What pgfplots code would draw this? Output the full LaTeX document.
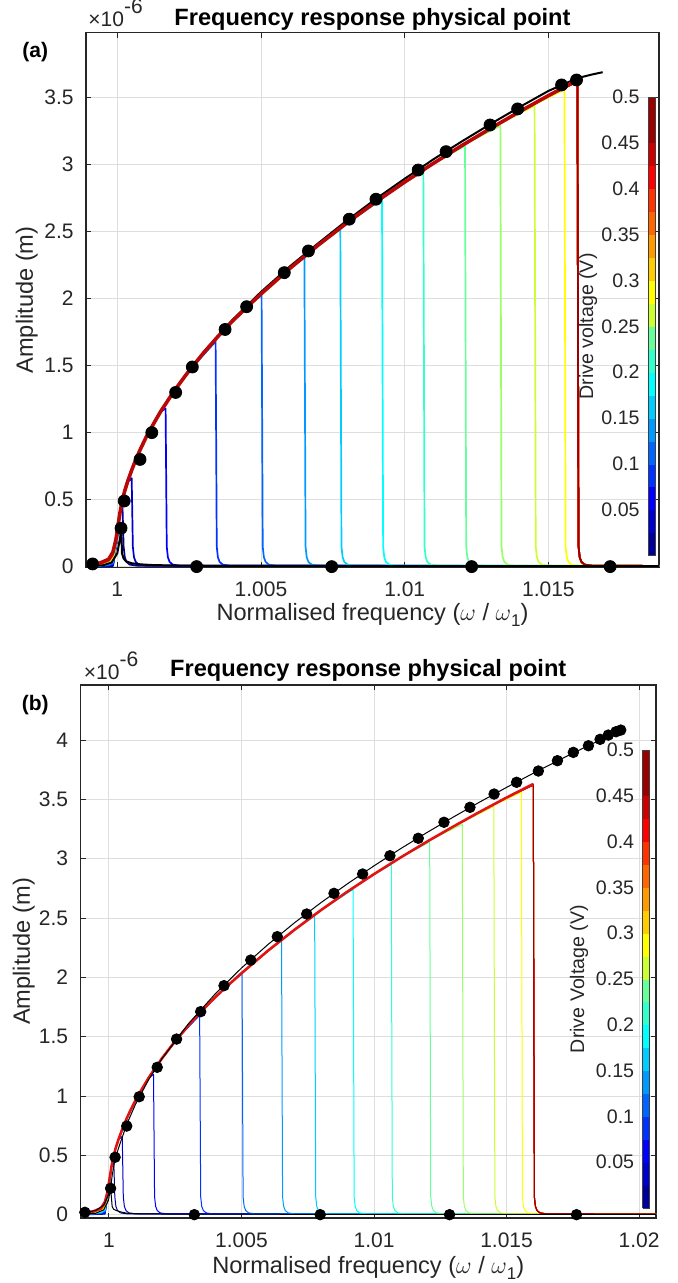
\documentclass[border=0pt]{standalone}
\usepackage{fontspec}
\setmainfont{Liberation Sans}
\usepackage{pgfplots}
\usepackage{pgfplotstable}
\pgfplotsset{compat=1.18}

% jet(20) as MATLAB builds it
\definecolor{j1}{rgb}{0,0,0.6}
\definecolor{j2}{rgb}{0,0,0.8}
\definecolor{j3}{rgb}{0,0,1}
\definecolor{j4}{rgb}{0,0.2,1}
\definecolor{j5}{rgb}{0,0.4,1}
\definecolor{j6}{rgb}{0,0.6,1}
\definecolor{j7}{rgb}{0,0.8,1}
\definecolor{j8}{rgb}{0,1,1}
\definecolor{j9}{rgb}{0.2,1,0.8}
\definecolor{j10}{rgb}{0.4,1,0.6}
\definecolor{j11}{rgb}{0.6,1,0.4}
\definecolor{j12}{rgb}{0.8,1,0.2}
\definecolor{j13}{rgb}{1,1,0}
\definecolor{j14}{rgb}{1,0.8,0}
\definecolor{j15}{rgb}{1,0.6,0}
\definecolor{j16}{rgb}{1,0.4,0}
\definecolor{j17}{rgb}{1,0.2,0}
\definecolor{j18}{rgb}{1,0,0}
\definecolor{j19}{rgb}{0.8,0,0}
\definecolor{j20}{rgb}{0.6,0,0}
\definecolor{thickA}{rgb}{0.72,0.03,0.03}
\definecolor{thickB}{rgb}{0.88,0.08,0.08}

\pgfplotsset{colormap={jetA}{rgb=(0,0,0.6) rgb=(0,0,0.8) rgb=(0,0,1) rgb=(0,0.2,1) rgb=(0,0.4,1)
  rgb=(0,0.6,1) rgb=(0,0.8,1) rgb=(0,1,1) rgb=(0.2,1,0.8) rgb=(0.4,1,0.6) rgb=(0.6,1,0.4)
  rgb=(0.8,1,0.2) rgb=(1,1,0) rgb=(1,0.8,0) rgb=(1,0.6,0) rgb=(1,0.4,0) rgb=(1,0.2,0)
  rgb=(1,0,0) rgb=(0.8,0,0) rgb=(0.6,0,0) rgb=(0.6,0,0)}}

% one table per drive level (0.025 V ... 0.5 V)
\pgfplotstableread[row sep=\\]{x y\\ 0.99890 0.0008\\ 0.99940 0.0014\\ 0.99970 0.0028\\ 0.99985 0.0055\\ 0.99999 0.200\\ 1.00009 0.400\\
1.00018 0.450\\ 1.00022 0.150\\ 1.00026 0.070\\ 1.00032 0.035\\ 1.00043 0.015\\ 1.00068 0.007\\ 1.02070 0.004\\}\rowa
\pgfplotstableread[row sep=\\]{x y\\ 0.99890 0.0015\\ 0.99940 0.0027\\ 0.99970 0.0055\\ 0.99985 0.011\\ 0.99999 0.200\\
1.00009 0.400\\ 1.00017 0.490\\ 1.00025 0.559\\ 1.00035 0.629\\
1.00050 0.660\\ 1.00054 0.150\\ 1.00058 0.070\\ 1.00064 0.035\\ 1.00075 0.015\\ 1.00100 0.007\\ 1.02070 0.004\\}\rowb
\pgfplotstableread[row sep=\\]{x y\\ 0.99890 0.0023\\ 0.99940 0.0041\\ 0.99970 0.0083\\ 0.99985 0.0165\\ 0.99998 0.200\\
1.00009 0.400\\ 1.00017 0.490\\ 1.00025 0.559\\ 1.00035 0.629\\ 1.00050 0.720\\ 1.00065 0.802\\ 1.00080 0.875\\ 1.00100 0.965\\ 1.00125 1.062\\ 1.00150 1.155\\
1.00168 1.180\\ 1.00172 0.150\\ 1.00176 0.070\\ 1.00182 0.035\\ 1.00193 0.015\\ 1.00218 0.007\\ 1.02070 0.004\\}\rowc
\pgfplotstableread[row sep=\\]{x y\\ 0.99890 0.003\\ 0.99940 0.0054\\ 0.99970 0.011\\ 0.99985 0.022\\ 0.99998 0.200\\
1.00009 0.400\\ 1.00017 0.490\\ 1.00025 0.559\\ 1.00035 0.629\\ 1.00050 0.720\\ 1.00065 0.802\\ 1.00080 0.875\\ 1.00100 0.965\\ 1.00125 1.062\\ 1.00150 1.155\\
1.00200 1.318\\ 1.00250 1.463\\
1.00342 1.680\\ 1.00346 0.150\\ 1.00350 0.070\\ 1.00356 0.035\\ 1.00367 0.015\\ 1.00392 0.007\\ 1.02070 0.004\\}\rowd
\pgfplotstableread[row sep=\\]{x y\\ 0.99890 0.0038\\ 0.99940 0.0068\\ 0.99970 0.0138\\ 0.99985 0.0275\\ 0.99998 0.200\\
1.00009 0.400\\ 1.00017 0.490\\ 1.00025 0.559\\ 1.00035 0.629\\ 1.00050 0.720\\ 1.00065 0.802\\ 1.00080 0.875\\ 1.00100 0.965\\ 1.00125 1.062\\ 1.00150 1.155\\
1.00200 1.318\\ 1.00250 1.463\\ 1.00300 1.595\\ 1.00350 1.717\\ 1.00400 1.831\\ 1.00450 1.935\\
1.00502 2.030\\ 1.00506 0.150\\ 1.00510 0.070\\ 1.00516 0.035\\ 1.00527 0.015\\ 1.00552 0.007\\ 1.02070 0.004\\}\rowe
\pgfplotstableread[row sep=\\]{x y\\ 0.99890 0.0045\\ 0.99940 0.0081\\ 0.99970 0.0165\\ 0.99985 0.033\\ 0.99998 0.200\\
1.00009 0.400\\ 1.00017 0.490\\ 1.00025 0.559\\ 1.00035 0.629\\ 1.00050 0.720\\ 1.00065 0.802\\ 1.00080 0.875\\ 1.00100 0.965\\ 1.00125 1.062\\ 1.00150 1.155\\
1.00200 1.318\\ 1.00250 1.463\\ 1.00300 1.595\\ 1.00350 1.717\\ 1.00400 1.831\\ 1.00450 1.935\\ 1.00500 2.035\\ 1.00600 2.225\\
1.00651 2.310\\ 1.00655 0.150\\ 1.00659 0.070\\ 1.00665 0.035\\ 1.00676 0.015\\ 1.00701 0.007\\ 1.02070 0.004\\}\rowf
\pgfplotstableread[row sep=\\]{x y\\ 0.99890 0.0053\\ 0.99940 0.0095\\ 0.99970 0.0193\\ 0.99985 0.0385\\ 0.99998 0.200\\
1.00009 0.400\\ 1.00017 0.490\\ 1.00025 0.559\\ 1.00035 0.629\\ 1.00050 0.720\\ 1.00065 0.802\\ 1.00080 0.875\\ 1.00100 0.965\\ 1.00125 1.062\\ 1.00150 1.155\\
1.00200 1.318\\ 1.00250 1.463\\ 1.00300 1.595\\ 1.00350 1.717\\ 1.00400 1.831\\ 1.00450 1.935\\ 1.00500 2.035\\ 1.00600 2.225\\ 1.00700 2.401\\
1.00776 2.520\\ 1.00780 0.150\\ 1.00784 0.070\\ 1.00790 0.035\\ 1.00801 0.015\\ 1.00826 0.007\\ 1.02070 0.004\\}\rowg
\pgfplotstableread[row sep=\\]{x y\\ 0.99890 0.006\\ 0.99940 0.0108\\ 0.99970 0.022\\ 0.99985 0.044\\ 0.99997 0.200\\
1.00009 0.400\\ 1.00017 0.490\\ 1.00025 0.559\\ 1.00035 0.629\\ 1.00050 0.720\\ 1.00065 0.802\\ 1.00080 0.875\\ 1.00100 0.965\\ 1.00125 1.062\\ 1.00150 1.155\\
1.00200 1.318\\ 1.00250 1.463\\ 1.00300 1.595\\ 1.00350 1.717\\ 1.00400 1.831\\ 1.00450 1.935\\ 1.00500 2.035\\ 1.00600 2.225\\ 1.00700 2.401\\ 1.00800 2.567\\
1.00921 2.740\\ 1.00925 0.150\\ 1.00929 0.070\\ 1.00935 0.035\\ 1.00946 0.015\\ 1.00971 0.007\\ 1.02070 0.004\\}\rowh
\pgfplotstableread[row sep=\\]{x y\\ 0.99890 0.0068\\ 0.99940 0.0122\\ 0.99970 0.0248\\ 0.99985 0.0495\\ 0.99997 0.200\\
1.00009 0.400\\ 1.00017 0.490\\ 1.00025 0.559\\ 1.00035 0.629\\ 1.00050 0.720\\ 1.00065 0.802\\ 1.00080 0.875\\ 1.00100 0.965\\ 1.00125 1.062\\ 1.00150 1.155\\
1.00200 1.318\\ 1.00250 1.463\\ 1.00300 1.595\\ 1.00350 1.717\\ 1.00400 1.831\\ 1.00450 1.935\\ 1.00500 2.035\\ 1.00600 2.225\\ 1.00700 2.401\\ 1.00800 2.567\\
1.00900 2.723\\ 1.01000 2.870\\
1.01065 2.950\\ 1.01069 0.150\\ 1.01073 0.070\\ 1.01079 0.035\\ 1.01090 0.015\\ 1.01115 0.007\\ 1.02070 0.004\\}\rowi
\pgfplotstableread[row sep=\\]{x y\\ 0.99890 0.0075\\ 0.99940 0.0135\\ 0.99970 0.0275\\ 0.99985 0.055\\ 0.99997 0.200\\
1.00009 0.400\\ 1.00017 0.490\\ 1.00025 0.559\\ 1.00035 0.629\\ 1.00050 0.720\\ 1.00065 0.802\\ 1.00080 0.875\\ 1.00100 0.965\\ 1.00125 1.062\\ 1.00150 1.155\\
1.00200 1.318\\ 1.00250 1.463\\ 1.00300 1.595\\ 1.00350 1.717\\ 1.00400 1.831\\ 1.00450 1.935\\ 1.00500 2.035\\ 1.00600 2.225\\ 1.00700 2.401\\ 1.00800 2.567\\
1.00900 2.723\\ 1.01000 2.870\\ 1.01100 3.010\\
1.01210 3.140\\ 1.01214 0.150\\ 1.01218 0.070\\ 1.01224 0.035\\ 1.01235 0.015\\ 1.01260 0.007\\ 1.02070 0.004\\}\rowj
\pgfplotstableread[row sep=\\]{x y\\ 0.99890 0.0083\\ 0.99940 0.0149\\ 0.99970 0.0303\\ 0.99985 0.0605\\ 0.99997 0.200\\
1.00009 0.400\\ 1.00017 0.490\\ 1.00025 0.559\\ 1.00035 0.629\\ 1.00050 0.720\\ 1.00065 0.802\\ 1.00080 0.875\\ 1.00100 0.965\\ 1.00125 1.062\\ 1.00150 1.155\\
1.00200 1.318\\ 1.00250 1.463\\ 1.00300 1.595\\ 1.00350 1.717\\ 1.00400 1.831\\ 1.00450 1.935\\ 1.00500 2.035\\ 1.00600 2.225\\ 1.00700 2.401\\ 1.00800 2.567\\
1.00900 2.723\\ 1.01000 2.870\\ 1.01100 3.010\\ 1.01200 3.144\\
1.01333 3.290\\ 1.01337 0.150\\ 1.01341 0.070\\ 1.01347 0.035\\ 1.01358 0.015\\ 1.01383 0.007\\ 1.02070 0.004\\}\rowk
\pgfplotstableread[row sep=\\]{x y\\ 0.99890 0.009\\ 0.99940 0.0162\\ 0.99970 0.033\\ 0.99985 0.066\\ 0.99997 0.200\\
1.00009 0.400\\ 1.00017 0.490\\ 1.00025 0.559\\ 1.00035 0.629\\ 1.00050 0.720\\ 1.00065 0.802\\ 1.00080 0.875\\ 1.00100 0.965\\ 1.00125 1.062\\ 1.00150 1.155\\
1.00200 1.318\\ 1.00250 1.463\\ 1.00300 1.595\\ 1.00350 1.717\\ 1.00400 1.831\\ 1.00450 1.935\\ 1.00500 2.035\\ 1.00600 2.225\\ 1.00700 2.401\\ 1.00800 2.567\\
1.00900 2.723\\ 1.01000 2.870\\ 1.01100 3.010\\ 1.01200 3.144\\ 1.01300 3.272\\
1.01452 3.440\\ 1.01456 0.150\\ 1.01460 0.070\\ 1.01466 0.035\\ 1.01477 0.015\\ 1.01502 0.007\\ 1.02070 0.004\\}\rowl
\pgfplotstableread[row sep=\\]{x y\\ 0.99890 0.0098\\ 0.99940 0.0176\\ 0.99970 0.0358\\ 0.99985 0.0715\\ 0.99996 0.200\\
1.00009 0.400\\ 1.00017 0.490\\ 1.00025 0.559\\ 1.00035 0.629\\ 1.00050 0.720\\ 1.00065 0.802\\ 1.00080 0.875\\ 1.00100 0.965\\ 1.00125 1.062\\ 1.00150 1.155\\
1.00200 1.318\\ 1.00250 1.463\\ 1.00300 1.595\\ 1.00350 1.717\\ 1.00400 1.831\\ 1.00450 1.935\\ 1.00500 2.035\\ 1.00600 2.225\\ 1.00700 2.401\\ 1.00800 2.567\\
1.00900 2.723\\ 1.01000 2.870\\ 1.01100 3.010\\ 1.01200 3.144\\ 1.01300 3.272\\ 1.01400 3.396\\
1.01556 3.560\\ 1.01560 0.150\\ 1.01564 0.070\\ 1.01570 0.035\\ 1.01581 0.015\\ 1.01606 0.007\\ 1.02070 0.004\\}\rowm
\pgfplotstableread[row sep=\\]{x y\\ 0.99890 0.0105\\ 0.99940 0.0189\\ 0.99970 0.0385\\ 0.99985 0.077\\ 0.99996 0.200\\
1.00009 0.400\\ 1.00017 0.490\\ 1.00025 0.559\\ 1.00035 0.629\\ 1.00050 0.720\\ 1.00065 0.802\\ 1.00080 0.875\\ 1.00100 0.965\\ 1.00125 1.062\\ 1.00150 1.155\\
1.00200 1.318\\ 1.00250 1.463\\ 1.00300 1.595\\ 1.00350 1.717\\ 1.00400 1.831\\ 1.00450 1.935\\ 1.00500 2.035\\ 1.00600 2.225\\ 1.00700 2.401\\ 1.00800 2.567\\
1.00900 2.723\\ 1.01000 2.870\\ 1.01100 3.010\\ 1.01200 3.144\\ 1.01300 3.272\\ 1.01400 3.396\\ 1.01500 3.515\\
1.01601 3.620\\ 1.01605 0.150\\ 1.01609 0.070\\ 1.01615 0.035\\ 1.01626 0.015\\ 1.01651 0.007\\ 1.02070 0.004\\}\rown
\pgfplotstableread[row sep=\\]{x y\\ 0.99890 0.0113\\ 0.99940 0.0203\\ 0.99970 0.0413\\ 0.99985 0.0825\\ 0.99996 0.200\\
1.00009 0.400\\ 1.00017 0.490\\ 1.00025 0.559\\ 1.00035 0.629\\ 1.00050 0.720\\ 1.00065 0.802\\ 1.00080 0.875\\ 1.00100 0.965\\ 1.00125 1.062\\ 1.00150 1.155\\
1.00200 1.318\\ 1.00250 1.463\\ 1.00300 1.595\\ 1.00350 1.717\\ 1.00400 1.831\\ 1.00450 1.935\\ 1.00500 2.035\\ 1.00600 2.225\\ 1.00700 2.401\\ 1.00800 2.567\\
1.00900 2.723\\ 1.01000 2.870\\ 1.01100 3.010\\ 1.01200 3.144\\ 1.01300 3.272\\ 1.01400 3.396\\ 1.01500 3.515\\
1.01601 3.620\\ 1.01605 0.150\\ 1.01609 0.070\\ 1.01615 0.035\\ 1.01626 0.015\\ 1.01651 0.007\\ 1.02070 0.004\\}\rowo
\pgfplotstableread[row sep=\\]{x y\\ 0.99890 0.012\\ 0.99940 0.0216\\ 0.99970 0.044\\ 0.99985 0.088\\ 0.99996 0.200\\
1.00009 0.400\\ 1.00017 0.490\\ 1.00025 0.559\\ 1.00035 0.629\\ 1.00050 0.720\\ 1.00065 0.802\\ 1.00080 0.875\\ 1.00100 0.965\\ 1.00125 1.062\\ 1.00150 1.155\\
1.00200 1.318\\ 1.00250 1.463\\ 1.00300 1.595\\ 1.00350 1.717\\ 1.00400 1.831\\ 1.00450 1.935\\ 1.00500 2.035\\ 1.00600 2.225\\ 1.00700 2.401\\ 1.00800 2.567\\
1.00900 2.723\\ 1.01000 2.870\\ 1.01100 3.010\\ 1.01200 3.144\\ 1.01300 3.272\\ 1.01400 3.396\\ 1.01500 3.515\\
1.01601 3.620\\ 1.01605 0.150\\ 1.01609 0.070\\ 1.01615 0.035\\ 1.01626 0.015\\ 1.01651 0.007\\ 1.02070 0.004\\}\rowp
\pgfplotstableread[row sep=\\]{x y\\ 0.99890 0.0128\\ 0.99940 0.023\\ 0.99970 0.0468\\ 0.99985 0.0935\\ 0.99996 0.200\\
1.00009 0.400\\ 1.00017 0.490\\ 1.00025 0.559\\ 1.00035 0.629\\ 1.00050 0.720\\ 1.00065 0.802\\ 1.00080 0.875\\ 1.00100 0.965\\ 1.00125 1.062\\ 1.00150 1.155\\
1.00200 1.318\\ 1.00250 1.463\\ 1.00300 1.595\\ 1.00350 1.717\\ 1.00400 1.831\\ 1.00450 1.935\\ 1.00500 2.035\\ 1.00600 2.225\\ 1.00700 2.401\\ 1.00800 2.567\\
1.00900 2.723\\ 1.01000 2.870\\ 1.01100 3.010\\ 1.01200 3.144\\ 1.01300 3.272\\ 1.01400 3.396\\ 1.01500 3.515\\
1.01601 3.620\\ 1.01605 0.150\\ 1.01609 0.070\\ 1.01615 0.035\\ 1.01626 0.015\\ 1.01651 0.007\\ 1.02070 0.004\\}\rowq
\pgfplotstableread[row sep=\\]{x y\\ 0.99890 0.0135\\ 0.99940 0.0243\\ 0.99970 0.0495\\ 0.99985 0.099\\ 0.99995 0.200\\
1.00009 0.400\\ 1.00017 0.490\\ 1.00025 0.559\\ 1.00035 0.629\\ 1.00050 0.720\\ 1.00065 0.802\\ 1.00080 0.875\\ 1.00100 0.965\\ 1.00125 1.062\\ 1.00150 1.155\\
1.00200 1.318\\ 1.00250 1.463\\ 1.00300 1.595\\ 1.00350 1.717\\ 1.00400 1.831\\ 1.00450 1.935\\ 1.00500 2.035\\ 1.00600 2.225\\ 1.00700 2.401\\ 1.00800 2.567\\
1.00900 2.723\\ 1.01000 2.870\\ 1.01100 3.010\\ 1.01200 3.144\\ 1.01300 3.272\\ 1.01400 3.396\\ 1.01500 3.515\\
1.01601 3.620\\ 1.01605 0.150\\ 1.01609 0.070\\ 1.01615 0.035\\ 1.01626 0.015\\ 1.01651 0.007\\ 1.02070 0.004\\}\rowr
\pgfplotstableread[row sep=\\]{x y\\ 0.99890 0.0143\\ 0.99940 0.0257\\ 0.99970 0.0523\\ 0.99985 0.1045\\ 0.99995 0.200\\
1.00009 0.400\\ 1.00017 0.490\\ 1.00025 0.559\\ 1.00035 0.629\\ 1.00050 0.720\\ 1.00065 0.802\\ 1.00080 0.875\\ 1.00100 0.965\\ 1.00125 1.062\\ 1.00150 1.155\\
1.00200 1.318\\ 1.00250 1.463\\ 1.00300 1.595\\ 1.00350 1.717\\ 1.00400 1.831\\ 1.00450 1.935\\ 1.00500 2.035\\ 1.00600 2.225\\ 1.00700 2.401\\ 1.00800 2.567\\
1.00900 2.723\\ 1.01000 2.870\\ 1.01100 3.010\\ 1.01200 3.144\\ 1.01300 3.272\\ 1.01400 3.396\\ 1.01500 3.515\\
1.01601 3.620\\ 1.01605 0.150\\ 1.01609 0.070\\ 1.01615 0.035\\ 1.01626 0.015\\ 1.01651 0.007\\ 1.02070 0.004\\}\rows
\pgfplotstableread[row sep=\\]{x y\\ 0.99890 0.015\\ 0.99940 0.027\\ 0.99970 0.055\\ 0.99985 0.110\\ 0.99995 0.200\\
1.00009 0.400\\ 1.00017 0.490\\ 1.00025 0.559\\ 1.00035 0.629\\ 1.00050 0.720\\ 1.00065 0.802\\ 1.00080 0.875\\ 1.00100 0.965\\ 1.00125 1.062\\ 1.00150 1.155\\
1.00200 1.318\\ 1.00250 1.463\\ 1.00300 1.595\\ 1.00350 1.717\\ 1.00400 1.831\\ 1.00450 1.935\\ 1.00500 2.035\\ 1.00600 2.225\\ 1.00700 2.401\\ 1.00800 2.567\\
1.00900 2.723\\ 1.01000 2.870\\ 1.01100 3.010\\ 1.01200 3.144\\ 1.01300 3.272\\ 1.01400 3.396\\ 1.01500 3.515\\
1.01601 3.630\\ 1.01605 0.150\\ 1.01609 0.070\\ 1.01615 0.035\\ 1.01626 0.015\\ 1.01651 0.007\\ 1.02070 0.004\\}\rowt

% black curves and physical points, panel (a)
\pgfplotstableread[row sep=\\]{x y\\ 0.99890 0.015\\ 0.99940 0.027\\ 0.99970 0.055\\ 0.99985 0.110\\ 0.99995 0.200\\ 1.00009 0.400\\
1.00017 0.500\\ 1.00035 0.640\\ 1.00065 0.810\\ 1.00100 0.970\\ 1.00150 1.160\\ 1.00200 1.320\\ 1.00300 1.600\\ 1.00400 1.840\\
1.00500 2.050\\ 1.00600 2.240\\ 1.00700 2.415\\ 1.00800 2.585\\ 1.00900 2.745\\ 1.01000 2.895\\ 1.01100 3.040\\ 1.01200 3.175\\
1.01300 3.305\\ 1.01400 3.430\\ 1.01500 3.550\\ 1.01600 3.645\\ 1.01650 3.672\\ 1.01689 3.690\\}\blkA
\pgfplotstableread[row sep=\\]{x y\\ 0.99890 0.004\\ 0.99950 0.010\\ 0.99980 0.030\\ 1.00000 0.100\\ 1.00010 0.220\\ 1.00013 0.287\\
1.00015 0.200\\ 1.00016 0.100\\ 1.00022 0.060\\ 1.00030 0.040\\ 1.00050 0.025\\ 1.00080 0.017\\ 1.00120 0.012\\ 1.00200 0.008\\
1.00400 0.005\\ 1.02070 0.003\\}\tailA
\pgfplotstableread[row sep=\\]{x y\\ 0.99914 0.02\\ 1.00013 0.287\\ 1.00024 0.49\\ 1.00079 0.80\\ 1.00120 1.00\\ 1.00203 1.30\\
1.00261 1.49\\ 1.00375 1.77\\ 1.00450 1.94\\ 1.00581 2.194\\ 1.00665 2.356\\ 1.00807 2.593\\ 1.00900 2.742\\ 1.01047 2.96\\
1.01144 3.097\\ 1.01297 3.296\\ 1.01393 3.416\\ 1.01546 3.595\\ 1.01598 3.632\\
1.00276 0\\ 1.00746 0\\ 1.01233 0\\ 1.01715 0\\}\dotsA

% black curves and physical points, panel (b)
\pgfplotstableread[row sep=\\]{x y\\ 0.99909 0.020\\ 0.99950 0.035\\ 0.99980 0.080\\ 0.99995 0.150\\ 1.00006 0.225\\ 1.00012 0.330\\
1.00023 0.470\\ 1.00040 0.588\\ 1.00067 0.761\\ 1.00100 0.930\\ 1.00150 1.139\\ 1.00200 1.315\\ 1.00300 1.610\\ 1.00400 1.859\\
1.00500 2.079\\ 1.00600 2.277\\ 1.00700 2.460\\ 1.00800 2.630\\ 1.00900 2.789\\ 1.01000 2.940\\ 1.01100 3.084\\ 1.01200 3.221\\
1.01300 3.352\\ 1.01400 3.479\\ 1.01500 3.601\\ 1.01600 3.719\\ 1.01700 3.833\\ 1.01800 3.944\\ 1.01931 4.082\\}\blkB
\pgfplotstableread[row sep=\\]{x y\\ 0.99890 0.004\\ 0.99950 0.012\\ 0.99980 0.040\\ 0.99998 0.120\\ 1.00006 0.222\\ 1.00009 0.150\\
1.00012 0.067\\ 1.00018 0.045\\ 1.00029 0.034\\ 1.00050 0.020\\ 1.00070 0.012\\ 1.00120 0.007\\ 1.00300 0.004\\ 1.02070 0.002\\}\tailB
\pgfplotstableread[row sep=\\]{x y\\ 0.99909 0.02\\ 1.00006 0.222\\ 1.00023 0.484\\ 1.00067 0.747\\ 1.00114 0.994\\ 1.00182 1.242\\
1.00255 1.48\\ 1.00346 1.711\\ 1.00434 1.93\\ 1.00535 2.146\\ 1.00635 2.343\\ 1.00746 2.534\\ 1.00849 2.708\\ 1.00957 2.871\\
1.01060 3.025\\ 1.01167 3.172\\ 1.01264 3.307\\ 1.01362 3.433\\ 1.01453 3.545\\ 1.01538 3.644\\ 1.01620 3.739\\ 1.01692 3.826\\
1.01752 3.896\\ 1.01809 3.952\\ 1.01853 4.006\\ 1.01884 4.042\\ 1.01913 4.07\\ 1.01931 4.084\\
1.00322 0\\ 1.00797 0\\ 1.01285 0\\ 1.01764 0\\}\dotsB

\pgfplotsset{
  frpanel/.style={
    scale only axis, anchor=south west, scaled ticks=false,
    axis line style={draw=black!85, line width=0.55pt},
    tick align=inside, major tick length=2.6pt,
    every tick/.style={draw=black!85, line width=0.5pt},
    grid=major, major grid style={draw=black!13, line width=0.5pt},
    ticklabel style={font=\fontsize{10.5}{12}\selectfont, text=black!85},
    yticklabel style={anchor=east, inner sep=0pt, xshift=-6pt},
    xticklabel style={anchor=north, inner sep=0pt, yshift=-7.3pt},
    xlabel={Normalised frequency ($\omega$ / $\omega$\raisebox{-0.5ex}{\fontsize{8.5}{9}\selectfont 1})},
    ylabel={Amplitude (m)},
    label style={font=\fontsize{11.8}{14}\selectfont, text=black!85},
    xlabel style={at={(axis description cs:0.5,0)}, anchor=base},
    ylabel style={anchor=base},
    title={Frequency response physical point},
    title style={at={(axis description cs:0.5,1)}, anchor=base, font=\bfseries\fontsize{11.8}{14}\selectfont},
    colormap name=jetA, colormap access=piecewise constant,
    point meta min=0, point meta max=0.5, colorbar sampled,
    colorbar style={
      scale only axis, width=3.5pt, grid=none, samples=21,
      ytick={0.05,0.1,0.15,0.2,0.25,0.3,0.35,0.4,0.45,0.5},
      yticklabels={0.05,0.1,0.15,0.2,0.25,0.3,0.35,0.4,0.45,0.5},
      yticklabel pos=left,
      yticklabel style={font=\fontsize{9.8}{11}\selectfont, text=black!85, anchor=east, inner sep=0pt, xshift=-4pt},
      major tick length=0pt,
      axis line style={draw=black!75, line width=0.4pt},
    },
  },
  thinA/.style={mark=none, line width=0.85pt, line join=round},
  thinB/.style={mark=none, line width=0.5pt, line join=round},
}

\begin{document}
\begin{tikzpicture}
\useasboundingbox (0,0) rectangle (339pt,641.5pt);

% ---------------- panel (a)
\begin{axis}[frpanel,
  at={(43pt,357.85pt)}, width=286.5pt, height=267.3pt,
  xmin=0.99891, xmax=1.01885, ymin=-0.005, ymax=3.985,
  xtick={1,1.005,1.01,1.015}, xticklabels={1,1.005,1.01,1.015},
  ytick={0,0.5,1,1.5,2,2.5,3,3.5}, yticklabels={0,0.5,1,1.5,2,2.5,3,3.5},
  ylabel style={at={(axis description cs:-0.0925,0.5)}},
  xlabel style={yshift=-26.7pt},
  title style={yshift=-2.65pt},
  colorbar style={at={(parent axis.north east)}, anchor=north east,
    xshift=-10.54pt, yshift=-32.15pt, height=229.35pt},
]
\addplot[thinA, j1] table {\rowa};
\addplot[thinA, j2] table {\rowb};
\addplot[thinA, j3] table {\rowc};
\addplot[thinA, j4] table {\rowd};
\addplot[thinA, j5] table {\rowe};
\addplot[thinA, j6] table {\rowf};
\addplot[thinA, j7] table {\rowg};
\addplot[thinA, j8] table {\rowh};
\addplot[thinA, j9] table {\rowi};
\addplot[thinA, j10] table {\rowj};
\addplot[thinA, j11] table {\rowk};
\addplot[thinA, j12] table {\rowl};
\addplot[thinA, j13] table {\rowm};
\addplot[thinA, j14] table {\rown};
\addplot[thinA, j15] table {\rowo};
\addplot[thinA, j16] table {\rowp};
\addplot[thinA, j17] table {\rowq};
\addplot[thinA, j18] table {\rowr};
\addplot[thinA, j19] table {\rows};
\addplot[thinA, j20] table {\rowt};
\addplot[mark=none, black, line width=1pt] table {\blkA};
\addplot[mark=none, black, line width=1pt] table {\tailA};
\addplot[only marks, mark=*, mark size=3pt, black] table {\dotsA};
\addplot[mark=none, thickA, line width=1.8pt, line join=round, restrict x to domain=0.99:1.01603] table {\rowt};
\end{axis}

% ---------------- panel (b)
\begin{axis}[frpanel,
  at={(40.25pt,32.5pt)}, width=287.75pt, height=266.5pt,
  xmin=0.998925, xmax=1.02064, ymin=-0.028, ymax=4.464,
  xtick={1,1.005,1.01,1.015,1.02}, xticklabels={1,1.005,1.01,1.015,1.02},
  ytick={0,0.5,1,1.5,2,2.5,3,3.5,4}, yticklabels={0,0.5,1,1.5,2,2.5,3,3.5,4},
  ylabel style={at={(axis description cs:-0.0878,0.5)}},
  xlabel style={yshift=-27.5pt},
  title style={yshift=-1.7pt},
  colorbar style={at={(parent axis.north east)}, anchor=north east,
    xshift=-11.79pt, yshift=-32.5pt, height=229pt},
]
\addplot[thinB, j1] table {\rowa};
\addplot[thinB, j2] table {\rowb};
\addplot[thinB, j3] table {\rowc};
\addplot[thinB, j4] table {\rowd};
\addplot[thinB, j5] table {\rowe};
\addplot[thinB, j6] table {\rowf};
\addplot[thinB, j7] table {\rowg};
\addplot[thinB, j8] table {\rowh};
\addplot[thinB, j9] table {\rowi};
\addplot[thinB, j10] table {\rowj};
\addplot[thinB, j11] table {\rowk};
\addplot[thinB, j12] table {\rowl};
\addplot[thinB, j13] table {\rowm};
\addplot[thinB, j14] table {\rown};
\addplot[thinB, j15] table {\rowo};
\addplot[thinB, j16] table {\rowp};
\addplot[thinB, j17] table {\rowq};
\addplot[thinB, j18] table {\rowr};
\addplot[thinB, j19] table {\rows};
\addplot[thinB, j20] table {\rowt};
\addplot[mark=none, thickB, line width=1.3pt, line join=round, restrict x to domain=0.99:1.01603] table {\rowt};
\addplot[mark=none, black, line width=0.5pt] table {\blkB};
\addplot[mark=none, black, line width=0.5pt] table {\tailB};
\addplot[only marks, mark=*, mark size=2.65pt, black] table {\dotsB};
\end{axis}

% panel tags, exponent labels, colourbar titles
\node[anchor=base west, inner sep=0pt, font=\bfseries\fontsize{10.5}{12}\selectfont] at (11pt,612.75pt) {(a)};
\node[anchor=base west, inner sep=0pt, font=\bfseries\fontsize{10.5}{12}\selectfont] at (10.75pt,286pt) {(b)};
\node[anchor=base west, inner sep=0pt, text=black!85, font=\fontsize{10.5}{12}\selectfont] at (44pt,628pt) {×10\raisebox{0.62em}{-6}};
\node[anchor=base west, inner sep=0pt, text=black!85, font=\fontsize{10.5}{12}\selectfont] at (41.75pt,301.5pt) {×10\raisebox{0.62em}{-6}};
\node[rotate=90, inner sep=0pt, text=black!85, font=\fontsize{9.8}{11}\selectfont] at (294pt,478.3pt) {Drive voltage (V)};
\node[rotate=90, inner sep=0pt, text=black!85, font=\fontsize{9.8}{11}\selectfont] at (289.5pt,152pt) {Drive Voltage (V)};
\end{tikzpicture}
\end{document}
